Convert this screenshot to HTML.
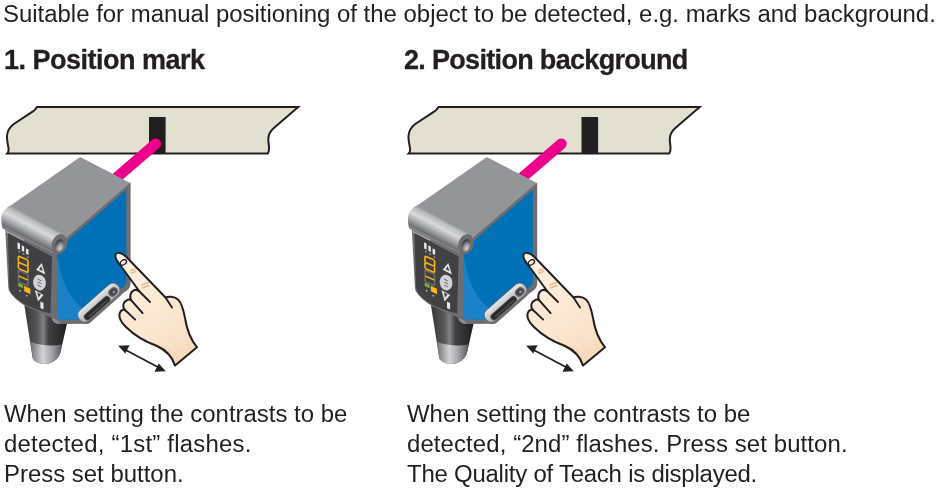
<!DOCTYPE html>
<html><head><meta charset="utf-8">
<style>
html,body{margin:0;padding:0;background:#fff;}
body{width:940px;height:489px;position:relative;overflow:hidden;font-family:"Liberation Sans",sans-serif;color:#231f20;}
.t{position:absolute;white-space:nowrap;font-size:23.95px;line-height:30px;}
.h{position:absolute;white-space:nowrap;font-size:27px;line-height:30px;font-weight:bold;letter-spacing:-0.5px;-webkit-text-stroke:0.3px #231f20;}
svg{position:absolute;left:0;top:0;}
.t,.h{will-change:transform;}
</style></head><body>
<svg width="940" height="489" viewBox="0 0 940 489"><defs>
<linearGradient id="gCyl" gradientUnits="userSpaceOnUse" x1="37.3" y1="220.5" x2="26.7" y2="240.8">
<stop offset="0" stop-color="#9fa1a4"/><stop offset="0.1" stop-color="#b9bbbd"/><stop offset="0.35" stop-color="#d8d9da"/><stop offset="0.6" stop-color="#a7a9ac"/><stop offset="0.85" stop-color="#707174"/><stop offset="1" stop-color="#8a8c8f"/></linearGradient>
<linearGradient id="gCone" gradientUnits="userSpaceOnUse" x1="25" y1="330" x2="68" y2="330">
<stop offset="0" stop-color="#3a3839"/><stop offset="0.3" stop-color="#58595b"/><stop offset="0.42" stop-color="#808285"/><stop offset="0.55" stop-color="#414042"/><stop offset="1" stop-color="#1f1c1d"/></linearGradient>
<linearGradient id="gCone2" gradientUnits="userSpaceOnUse" x1="30" y1="355" x2="62" y2="355">
<stop offset="0" stop-color="#6d6e71"/><stop offset="0.4" stop-color="#d1d3d4"/><stop offset="0.65" stop-color="#a7a9ac"/><stop offset="1" stop-color="#58595b"/></linearGradient>
<radialGradient id="gHole" cx="0.65" cy="0.7" r="0.75"><stop offset="0" stop-color="#d1d3d4"/><stop offset="0.45" stop-color="#939598"/><stop offset="1" stop-color="#2e2b2c"/></radialGradient>
<linearGradient id="gLens" x1="0" y1="0" x2="0" y2="1"><stop offset="0" stop-color="#e6e7e8"/><stop offset="1" stop-color="#a7a9ac"/></linearGradient>
<linearGradient id="gSkin" gradientUnits="userSpaceOnUse" x1="130" y1="280" x2="190" y2="360"><stop offset="0" stop-color="#fdeedd"/><stop offset="0.7" stop-color="#fbe3cb"/><stop offset="1" stop-color="#f4d6b6"/></linearGradient>
</defs><path d="M37,107 L298.2,107 L273.3,128.5 C270,131.5 268.4,134.5 268.3,139 C268.2,142 269.2,146 269,149 C268.9,151 268.5,152.5 267.8,153.5 L7.2,153.5 C8.2,152.5 8.8,151 8.6,148.5 C7.7,144 6.8,140 7,136 C7.3,131 9.8,127 13.8,124 L33.3,111.2 C34.8,110 35.8,109 37,107 Z" fill="#e3dfd1" stroke="#231f20" stroke-width="2" stroke-linejoin="miter"/>
<rect x="149" y="117" width="16.6" height="36.7" fill="#231f20"/><line x1="155.7" y1="143.8" x2="105.69999999999999" y2="187.0" stroke="#ec008c" stroke-width="10.8" stroke-linecap="round"/><g>
<!-- connector cone -->
<path d="M24,303 L68.3,318 L60.4,352.6 C58.5,360 51,364 45,364 C38,364 33.5,361 32.6,357.8 Z" fill="url(#gCone)"/>
<path d="M30.4,341.7 C40,345.5 52,346.5 62,344.4 L60.4,352.6 C58.5,360 51,364 45,364 C38,364 33.5,361 32.6,357.8 Z" fill="url(#gCone2)"/>
<!-- blue face outer bezel -->
<path d="M56,244 L130.6,182.5 L130.6,283 C130.6,287.5 128.5,290 124,292.5 L86,323.7 L60,324 C55,324 51.5,321 51.5,316 L51.5,250 Z" fill="#6d6e71"/>
<path d="M51.5,250 L55.8,247 L55.8,316 C55.8,319 57,321 59.5,322 L59,324 C54.5,323.5 51.5,321 51.5,316 Z" fill="#8a8c8f"/>
<path d="M58,248.8 L126.3,189.8 L126.3,281.5 C126.3,284 125,286 122,288 L82,319.5 L60.5,319.5 C58,319.5 56.5,318 56.5,315 L56.5,250 Z" fill="#0071b6"/>
<path d="M56.5,252 L56.5,315 C56.5,318 58,319.5 60.5,319.5 L82,319.5 L90,313.5 C72,303 61,285 56.5,252 Z" fill="#1b82c9"/>
<!-- front face housing -->
<path d="M5,226 L57,251 L57,320 C54,319 52,318 50,317 L32,309 C24,306 17,301 11.5,294.5 C9,291.5 8.3,289 8.3,287 L5.4,232 Z" fill="#6d6e71"/>
<path d="M5.5,230.5 L24,239.5 L23.6,241 L6,232.5 Z" fill="#a7a9ac"/>
<path d="M7.9,233 L52,256.5 L50.6,313.5 C40,311 31,307.5 25,304.5 C18,300.5 13,296 10.8,291.8 C9.7,289.7 9.3,288 9.3,286 Z" fill="#414042"/>
<!-- display details -->
<g fill="#e6e7e8">
<path d="M17.5,242.3 L20,243.5 L20,249.6 L17.5,248.4 Z M21.8,245.3 L24.2,246.5 L24.2,252 L21.8,250.8 Z M26,248.4 L28.5,249.6 L28.5,255 L26,253.8 Z"/>
</g>
<g fill="#939598"><circle cx="19.3" cy="251.5" r="0.9"/><circle cx="23.6" cy="254" r="0.9"/><circle cx="27.9" cy="257.2" r="0.9"/></g>
<path transform="translate(18.4 256) skewY(23)" d="M0.8,0L8.799999999999999,0M9.6,0.8L9.6,5.45M9.6,7.05L9.6,11.7M0.8,12.5L8.799999999999999,12.5M0,7.05L0,11.7M0,0.8L0,5.45M0.8,6.25L8.799999999999999,6.25" stroke="#fdb813" stroke-width="1.6" stroke-linecap="round" fill="none"/><path transform="translate(18.4 270.2) skewY(23)" d="M0.8,0L8.799999999999999,0M9.6,0.8L9.6,4.95M9.6,6.55L9.6,10.7M0.8,11.5L8.799999999999999,11.5M0,6.55L0,10.7M0,0.8L0,4.95" stroke="#6d6e71" stroke-width="1.5" stroke-linecap="round" fill="none"/><path transform="translate(18.4 270.2) skewY(23)" d="M0.8,5.75L8.799999999999999,5.75" stroke="#fdb813" stroke-width="1.5" stroke-linecap="round" fill="none"/>
<path d="M18.1,282.7 L23,285 L23,288.2 L18.1,286 Z" fill="#8dc63f" opacity="0.85"/>
<path d="M24.2,285.8 L30.4,288.8 L30.4,294.3 L24.2,291.3 Z" fill="#fdb813"/>
<path d="M19,290 L21,290.5 L20,292 Z M25.7,295 L27.7,295.5 L26.7,297 Z" fill="#e6e7e8"/>
<path d="M41.7,263 L36.1,269.7 L45.3,274.6 Z" fill="#e6e7e8"/>
<path d="M41.2,266.2 L39,269.2 L42.8,271.2 Z" fill="#414042"/>
<ellipse cx="39.5" cy="282.6" rx="6.3" ry="7.9" fill="#d1d3d4" transform="rotate(-10 39.5 282.6)"/>
<path d="M37.5,279 L41.5,281 M37.5,282 L41.5,284 M37.5,285 L41.5,287" stroke="#6d6e71" stroke-width="1"/>
<path d="M34.9,290 L43.5,294.9 L38,301.6 Z" fill="#e6e7e8"/>
<path d="M37.3,292.3 L41,294.5 L38.4,297.5 Z" fill="#414042"/>
<path d="M40.4,301.5 L43.5,303 L43.5,309.6 L40.4,308.1 Z" fill="#e6e7e8"/>

<!-- top face -->
<path d="M80.2,157.1 L130.3,183 L63,241.2 L10,206 Z" fill="#939598"/>
<path d="M130.3,183.6 L63,241.8" stroke="#6d6e71" stroke-width="1.2"/>
<!-- cylinder -->
<path d="M10,205.6 C5,208 1,214 1.3,219.5 C1.5,224 2,227 2.5,228.5 L53.2,253.5 L62.5,234.2 Z" fill="url(#gCyl)"/>
<ellipse cx="59.4" cy="244.2" rx="7.6" ry="10.3" fill="#6d6e71" transform="rotate(18 59.4 244.2)"/>
<ellipse cx="59.6" cy="245.4" rx="4.3" ry="6.2" fill="url(#gHole)" transform="rotate(18 59.6 245.4)"/>
<!-- lens slot -->
<g transform="translate(99.6 303.4) rotate(-41.5)">
<rect x="-26" y="-8" width="52" height="16.2" rx="6.5" fill="#6d6e71"/>
<rect x="-25.3" y="-7.6" width="50.6" height="13" rx="6" fill="url(#gLens)"/>
<rect x="-21.5" y="-1.6" width="33" height="7" rx="3.4" fill="#58595b"/>
<rect x="-20.8" y="-1" width="31.6" height="5.8" rx="2.9" fill="#2e2b2c"/>
<path d="M-17,2.8 L8,2.8" stroke="#6d6e71" stroke-width="0.8"/>
<rect x="12.8" y="-3.6" width="10" height="7.8" rx="3.9" fill="#58595b"/>
<ellipse cx="17.8" cy="0.3" rx="3.4" ry="2.6" fill="#414042"/>
<ellipse cx="18.3" cy="0.8" rx="1.6" ry="1.2" fill="#939598"/>
</g>

<!-- hand -->
<path d="M116.5,253.5 C119,252 123,254 126,256.5 L165.5,297.5 C168,296.5 174,296 178,299.5 C181.5,302.5 183.5,310 185,318 C187,331 191,340 197,347.2 L175,365.6 C172,356 166,350 157,346 C146,342 134,335 126,327 C121,322 118,317 120,312.5 C121,310 123,309.5 124.5,309.5 C122.5,306.5 123,302 126.5,300.5 C128,299.5 130,299.5 131,300 C129.5,296.5 130.5,292 133.5,290.5 C135,289.5 137.5,290 139.5,291.5 L118.3,262.5 C115.5,259.5 114.5,255 116.5,253.5 Z" fill="url(#gSkin)"/>
<path d="M146,341 C155,343.5 163,346 168.5,350 C172,353 175,359 175.5,365 C171,358 165,352 158,348.5 Z" fill="#f0cfac" opacity="0.9"/>
<path d="M116.5,253.5 C119,252 123,254 126,256.5 L165.5,297.5 C168,296.5 174,296 178,299.5 C181.5,302.5 183.5,310 185,318 C187,331 191,340 197,347.2 L175,365.6 C172,356 166,350 157,346 C146,342 134,335 126,327 C121,322 118,317 120,312.5 C121,310 123,309.5 124.5,309.5 C122.5,306.5 123,302 126.5,300.5 C128,299.5 130,299.5 131,300 C129.5,296.5 130.5,292 133.5,290.5 C135,289.5 137.5,290 139.5,291.5 L118.3,262.5 C115.5,259.5 114.5,255 116.5,253.5 Z" fill="none" stroke="#231f20" stroke-width="2" stroke-linejoin="round"/>
<path d="M165.5,297.5 L172,307.6 M139.5,291.5 L150,302 M131,300 L142.6,313.1 M124.5,309.5 L135.2,319.6" fill="none" stroke="#231f20" stroke-width="1.9" stroke-linecap="round"/>
<path d="M116.8,254.5 C119,253 123,255 125.5,258.5 L126,261 L121,264 C118.5,261 116.3,257.5 116.8,254.5 Z" fill="#fffaf4"/>
<ellipse cx="123.4" cy="262.4" rx="3.4" ry="2.3" fill="none" stroke="#231f20" stroke-width="1.3" transform="rotate(-35 123.4 262.4)"/>
<path d="M130.5,270.5 L135,269 M131,273 L135.5,271.5 M142,285 L148.5,282.5 M142.5,288 L149,285.5" stroke="#e2bd93" stroke-width="1.6" stroke-linecap="round"/>
<!-- arrow -->
<line x1="122" y1="348" x2="162" y2="369.3" stroke="#231f20" stroke-width="1.7"/>
<path d="M118.2,345.8 L129.5,345.3 L125.3,353.5 Z" fill="#231f20"/>
<path d="M165.8,371.3 L154.5,371.8 L158.7,363.6 Z" fill="#231f20"/>
</g><g transform="translate(401.5,0)"><path d="M37,107 L298.2,107 L273.3,128.5 C270,131.5 268.4,134.5 268.3,139 C268.2,142 269.2,146 269,149 C268.9,151 268.5,152.5 267.8,153.5 L7.2,153.5 C8.2,152.5 8.8,151 8.6,148.5 C7.7,144 6.8,140 7,136 C7.3,131 9.8,127 13.8,124 L33.3,111.2 C34.8,110 35.8,109 37,107 Z" fill="#e3dfd1" stroke="#231f20" stroke-width="2" stroke-linejoin="miter"/>
<rect x="180" y="117" width="16.6" height="36.7" fill="#231f20"/></g><line x1="561.3" y1="143.8" x2="511.29999999999995" y2="187.0" stroke="#ec008c" stroke-width="10.8" stroke-linecap="round"/><g transform="translate(406.6,0)">
<!-- connector cone -->
<path d="M24,303 L68.3,318 L60.4,352.6 C58.5,360 51,364 45,364 C38,364 33.5,361 32.6,357.8 Z" fill="url(#gCone)"/>
<path d="M30.4,341.7 C40,345.5 52,346.5 62,344.4 L60.4,352.6 C58.5,360 51,364 45,364 C38,364 33.5,361 32.6,357.8 Z" fill="url(#gCone2)"/>
<!-- blue face outer bezel -->
<path d="M56,244 L130.6,182.5 L130.6,283 C130.6,287.5 128.5,290 124,292.5 L86,323.7 L60,324 C55,324 51.5,321 51.5,316 L51.5,250 Z" fill="#6d6e71"/>
<path d="M51.5,250 L55.8,247 L55.8,316 C55.8,319 57,321 59.5,322 L59,324 C54.5,323.5 51.5,321 51.5,316 Z" fill="#8a8c8f"/>
<path d="M58,248.8 L126.3,189.8 L126.3,281.5 C126.3,284 125,286 122,288 L82,319.5 L60.5,319.5 C58,319.5 56.5,318 56.5,315 L56.5,250 Z" fill="#0071b6"/>
<path d="M56.5,252 L56.5,315 C56.5,318 58,319.5 60.5,319.5 L82,319.5 L90,313.5 C72,303 61,285 56.5,252 Z" fill="#1b82c9"/>
<!-- front face housing -->
<path d="M5,226 L57,251 L57,320 C54,319 52,318 50,317 L32,309 C24,306 17,301 11.5,294.5 C9,291.5 8.3,289 8.3,287 L5.4,232 Z" fill="#6d6e71"/>
<path d="M5.5,230.5 L24,239.5 L23.6,241 L6,232.5 Z" fill="#a7a9ac"/>
<path d="M7.9,233 L52,256.5 L50.6,313.5 C40,311 31,307.5 25,304.5 C18,300.5 13,296 10.8,291.8 C9.7,289.7 9.3,288 9.3,286 Z" fill="#414042"/>
<!-- display details -->
<g fill="#e6e7e8">
<path d="M17.5,242.3 L20,243.5 L20,249.6 L17.5,248.4 Z M21.8,245.3 L24.2,246.5 L24.2,252 L21.8,250.8 Z M26,248.4 L28.5,249.6 L28.5,255 L26,253.8 Z"/>
</g>
<g fill="#939598"><circle cx="19.3" cy="251.5" r="0.9"/><circle cx="23.6" cy="254" r="0.9"/><circle cx="27.9" cy="257.2" r="0.9"/></g>
<path transform="translate(18.4 256) skewY(23)" d="M0.8,0L8.799999999999999,0M9.6,0.8L9.6,5.45M9.6,7.05L9.6,11.7M0.8,12.5L8.799999999999999,12.5M0,7.05L0,11.7M0,0.8L0,5.45M0.8,6.25L8.799999999999999,6.25" stroke="#fdb813" stroke-width="1.6" stroke-linecap="round" fill="none"/><path transform="translate(18.4 270.2) skewY(23)" d="M0.8,0L8.799999999999999,0M9.6,0.8L9.6,4.95M9.6,6.55L9.6,10.7M0.8,11.5L8.799999999999999,11.5M0,6.55L0,10.7M0,0.8L0,4.95" stroke="#6d6e71" stroke-width="1.5" stroke-linecap="round" fill="none"/><path transform="translate(18.4 270.2) skewY(23)" d="M0.8,5.75L8.799999999999999,5.75" stroke="#fdb813" stroke-width="1.5" stroke-linecap="round" fill="none"/>
<path d="M18.1,282.7 L23,285 L23,288.2 L18.1,286 Z" fill="#8dc63f" opacity="0.85"/>
<path d="M24.2,285.8 L30.4,288.8 L30.4,294.3 L24.2,291.3 Z" fill="#fdb813"/>
<path d="M19,290 L21,290.5 L20,292 Z M25.7,295 L27.7,295.5 L26.7,297 Z" fill="#e6e7e8"/>
<path d="M41.7,263 L36.1,269.7 L45.3,274.6 Z" fill="#e6e7e8"/>
<path d="M41.2,266.2 L39,269.2 L42.8,271.2 Z" fill="#414042"/>
<ellipse cx="39.5" cy="282.6" rx="6.3" ry="7.9" fill="#d1d3d4" transform="rotate(-10 39.5 282.6)"/>
<path d="M37.5,279 L41.5,281 M37.5,282 L41.5,284 M37.5,285 L41.5,287" stroke="#6d6e71" stroke-width="1"/>
<path d="M34.9,290 L43.5,294.9 L38,301.6 Z" fill="#e6e7e8"/>
<path d="M37.3,292.3 L41,294.5 L38.4,297.5 Z" fill="#414042"/>
<path d="M40.4,301.5 L43.5,303 L43.5,309.6 L40.4,308.1 Z" fill="#e6e7e8"/>

<!-- top face -->
<path d="M80.2,157.1 L130.3,183 L63,241.2 L10,206 Z" fill="#939598"/>
<path d="M130.3,183.6 L63,241.8" stroke="#6d6e71" stroke-width="1.2"/>
<!-- cylinder -->
<path d="M10,205.6 C5,208 1,214 1.3,219.5 C1.5,224 2,227 2.5,228.5 L53.2,253.5 L62.5,234.2 Z" fill="url(#gCyl)"/>
<ellipse cx="59.4" cy="244.2" rx="7.6" ry="10.3" fill="#6d6e71" transform="rotate(18 59.4 244.2)"/>
<ellipse cx="59.6" cy="245.4" rx="4.3" ry="6.2" fill="url(#gHole)" transform="rotate(18 59.6 245.4)"/>
<!-- lens slot -->
<g transform="translate(99.6 303.4) rotate(-41.5)">
<rect x="-26" y="-8" width="52" height="16.2" rx="6.5" fill="#6d6e71"/>
<rect x="-25.3" y="-7.6" width="50.6" height="13" rx="6" fill="url(#gLens)"/>
<rect x="-21.5" y="-1.6" width="33" height="7" rx="3.4" fill="#58595b"/>
<rect x="-20.8" y="-1" width="31.6" height="5.8" rx="2.9" fill="#2e2b2c"/>
<path d="M-17,2.8 L8,2.8" stroke="#6d6e71" stroke-width="0.8"/>
<rect x="12.8" y="-3.6" width="10" height="7.8" rx="3.9" fill="#58595b"/>
<ellipse cx="17.8" cy="0.3" rx="3.4" ry="2.6" fill="#414042"/>
<ellipse cx="18.3" cy="0.8" rx="1.6" ry="1.2" fill="#939598"/>
</g>
</g><g transform="translate(408,0)">
<!-- hand -->
<path d="M116.5,253.5 C119,252 123,254 126,256.5 L165.5,297.5 C168,296.5 174,296 178,299.5 C181.5,302.5 183.5,310 185,318 C187,331 191,340 197,347.2 L175,365.6 C172,356 166,350 157,346 C146,342 134,335 126,327 C121,322 118,317 120,312.5 C121,310 123,309.5 124.5,309.5 C122.5,306.5 123,302 126.5,300.5 C128,299.5 130,299.5 131,300 C129.5,296.5 130.5,292 133.5,290.5 C135,289.5 137.5,290 139.5,291.5 L118.3,262.5 C115.5,259.5 114.5,255 116.5,253.5 Z" fill="url(#gSkin)"/>
<path d="M146,341 C155,343.5 163,346 168.5,350 C172,353 175,359 175.5,365 C171,358 165,352 158,348.5 Z" fill="#f0cfac" opacity="0.9"/>
<path d="M116.5,253.5 C119,252 123,254 126,256.5 L165.5,297.5 C168,296.5 174,296 178,299.5 C181.5,302.5 183.5,310 185,318 C187,331 191,340 197,347.2 L175,365.6 C172,356 166,350 157,346 C146,342 134,335 126,327 C121,322 118,317 120,312.5 C121,310 123,309.5 124.5,309.5 C122.5,306.5 123,302 126.5,300.5 C128,299.5 130,299.5 131,300 C129.5,296.5 130.5,292 133.5,290.5 C135,289.5 137.5,290 139.5,291.5 L118.3,262.5 C115.5,259.5 114.5,255 116.5,253.5 Z" fill="none" stroke="#231f20" stroke-width="2" stroke-linejoin="round"/>
<path d="M165.5,297.5 L172,307.6 M139.5,291.5 L150,302 M131,300 L142.6,313.1 M124.5,309.5 L135.2,319.6" fill="none" stroke="#231f20" stroke-width="1.9" stroke-linecap="round"/>
<path d="M116.8,254.5 C119,253 123,255 125.5,258.5 L126,261 L121,264 C118.5,261 116.3,257.5 116.8,254.5 Z" fill="#fffaf4"/>
<ellipse cx="123.4" cy="262.4" rx="3.4" ry="2.3" fill="none" stroke="#231f20" stroke-width="1.3" transform="rotate(-35 123.4 262.4)"/>
<path d="M130.5,270.5 L135,269 M131,273 L135.5,271.5 M142,285 L148.5,282.5 M142.5,288 L149,285.5" stroke="#e2bd93" stroke-width="1.6" stroke-linecap="round"/>
<!-- arrow -->
<line x1="122" y1="348" x2="162" y2="369.3" stroke="#231f20" stroke-width="1.7"/>
<path d="M118.2,345.8 L129.5,345.3 L125.3,353.5 Z" fill="#231f20"/>
<path d="M165.8,371.3 L154.5,371.8 L158.7,363.6 Z" fill="#231f20"/>
</g></svg><div class="t" style="left:3px;top:-1px">Suitable for manual positioning of the object to be detected, e.g. marks and background.</div>
<div class="h" style="left:4px;top:45px">1. Position mark</div>
<div class="h" style="left:404px;top:45px;letter-spacing:-0.68px">2. Position background</div>
<div class="t" style="left:4px;top:399px">When setting the contrasts to be<br><span style="letter-spacing:0.23px">detected, “1st” flashes.</span><br>Press set button.</div>
<div class="t" style="left:407px;top:399px">When setting the contrasts to be<br><span style="letter-spacing:0.1px">detected, “2nd” flashes. Press set button.</span><br><span style="letter-spacing:-0.22px">The Quality of Teach is displayed.</span></div>
</body></html>
